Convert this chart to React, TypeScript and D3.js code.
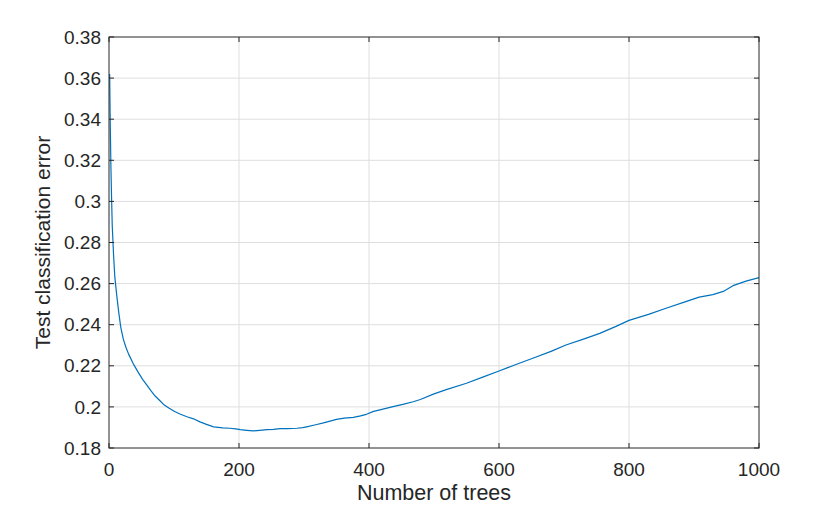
import React from 'react';
import * as d3 from 'd3';

// number of trees vs test classification error
const trees = [
  1, 2, 3, 4, 5, 7, 9, 12, 15, 18, 22, 26, 30, 37, 45, 52, 58, 65, 71, 78, 84, 92,
  101, 110, 120, 130, 140, 150, 161, 175, 186, 195, 202, 212, 222, 232, 243, 253,
  263, 275, 289, 298, 304, 318, 330, 340, 350, 362, 376, 387, 396, 407, 420, 437,
  452, 468, 479, 499, 520, 550, 575, 600, 625, 652, 680, 703, 730, 755, 780, 800,
  830, 857, 885, 908, 929, 945, 960, 980, 1000,
];
const errors = [
  0.362, 0.336, 0.316, 0.301, 0.288, 0.274, 0.263, 0.254, 0.246, 0.239, 0.233, 0.229,
  0.2258, 0.2212, 0.2168, 0.2133, 0.2107, 0.2077, 0.2053, 0.2031, 0.2012, 0.1995,
  0.1978, 0.1964, 0.1952, 0.1942, 0.1927, 0.1915, 0.1903, 0.1898, 0.1896, 0.1893,
  0.1889, 0.1886, 0.1883, 0.1886, 0.1889, 0.1891, 0.1894, 0.1894, 0.1896, 0.1899,
  0.1903, 0.1913, 0.1922, 0.1931, 0.1939, 0.1945, 0.1949, 0.1956, 0.1964, 0.1978,
  0.1988, 0.2001, 0.2012, 0.2025, 0.2036, 0.2062, 0.2085, 0.2115, 0.2145, 0.2175,
  0.2205, 0.2237, 0.227, 0.2301, 0.233, 0.2358, 0.2392, 0.2421, 0.245, 0.248, 0.251,
  0.2534, 0.2546, 0.2562, 0.259, 0.2612, 0.2629,
];
const xTicks = [0, 200, 400, 600, 800, 1000];
const yTicks = [0.18, 0.2, 0.22, 0.24, 0.26, 0.28, 0.3, 0.32, 0.34, 0.36, 0.38];

const W = 840;
const H = 506;
const left = 109;
const right = 759;
const top = 37;
const bottom = 448;
const ink = '#262626';
const font = '"Liberation Sans", Arial, Helvetica, sans-serif';

export default function App() {
  const x = d3.scaleLinear().domain([0, 1000]).range([left, right]);
  const y = d3.scaleLinear().domain([0.18, 0.38]).range([bottom, top]);

  const line = d3
    .line<number>()
    .x((_, i) => x(trees[i]))
    .y((d) => y(d));

  return (
    <svg
      width={W}
      height={H}
      style={{ position: 'absolute', left: 0, top: 0, background: '#fff' }}
      fontFamily={font}
    >
      <rect x={0} y={0} width={W} height={H} fill="#fff" />
      {/* grid */}
      {xTicks.slice(1, -1).map((t) => (
        <line key={'gx' + t} x1={x(t)} x2={x(t)} y1={top} y2={bottom} stroke="#dedede" strokeWidth={1} />
      ))}
      {yTicks.slice(1, -1).map((t) => (
        <line key={'gy' + t} x1={left} x2={right} y1={y(t)} y2={y(t)} stroke="#dedede" strokeWidth={1} />
      ))}

      <path d={line(errors) || ''} fill="none" stroke="#0072BD" strokeWidth={1.2} strokeLinejoin="round" />

      {/* box */}
      <rect x={left} y={top} width={right - left} height={bottom - top} fill="none" stroke={ink} strokeWidth={1} />

      {/* ticks, pointing inward on all four sides */}
      {xTicks.map((t) => (
        <g key={'tx' + t}>
          <line x1={x(t)} x2={x(t)} y1={bottom} y2={bottom - 5} stroke={ink} />
          <line x1={x(t)} x2={x(t)} y1={top} y2={top + 5} stroke={ink} />
          <text x={x(t)} y={476} textAnchor="middle" fontSize={19} fill={ink}>
            {t}
          </text>
        </g>
      ))}
      {yTicks.map((t) => (
        <g key={'ty' + t}>
          <line x1={left} x2={left + 5} y1={y(t)} y2={y(t)} stroke={ink} />
          <line x1={right} x2={right - 5} y1={y(t)} y2={y(t)} stroke={ink} />
          <text x={101} y={y(t)} dy="0.35em" textAnchor="end" fontSize={19} fill={ink}>
            {d3.format('')(+t.toFixed(2))}
          </text>
        </g>
      ))}

      <text x={(left + right) / 2} y={500} textAnchor="middle" fontSize={21.5} fill={ink}>
        Number of trees
      </text>
      <text
        transform={`translate(50, ${(top + bottom) / 2}) rotate(-90)`}
        textAnchor="middle"
        fontSize={21}
        fill={ink}
      >
        Test classification error
      </text>
    </svg>
  );
}
